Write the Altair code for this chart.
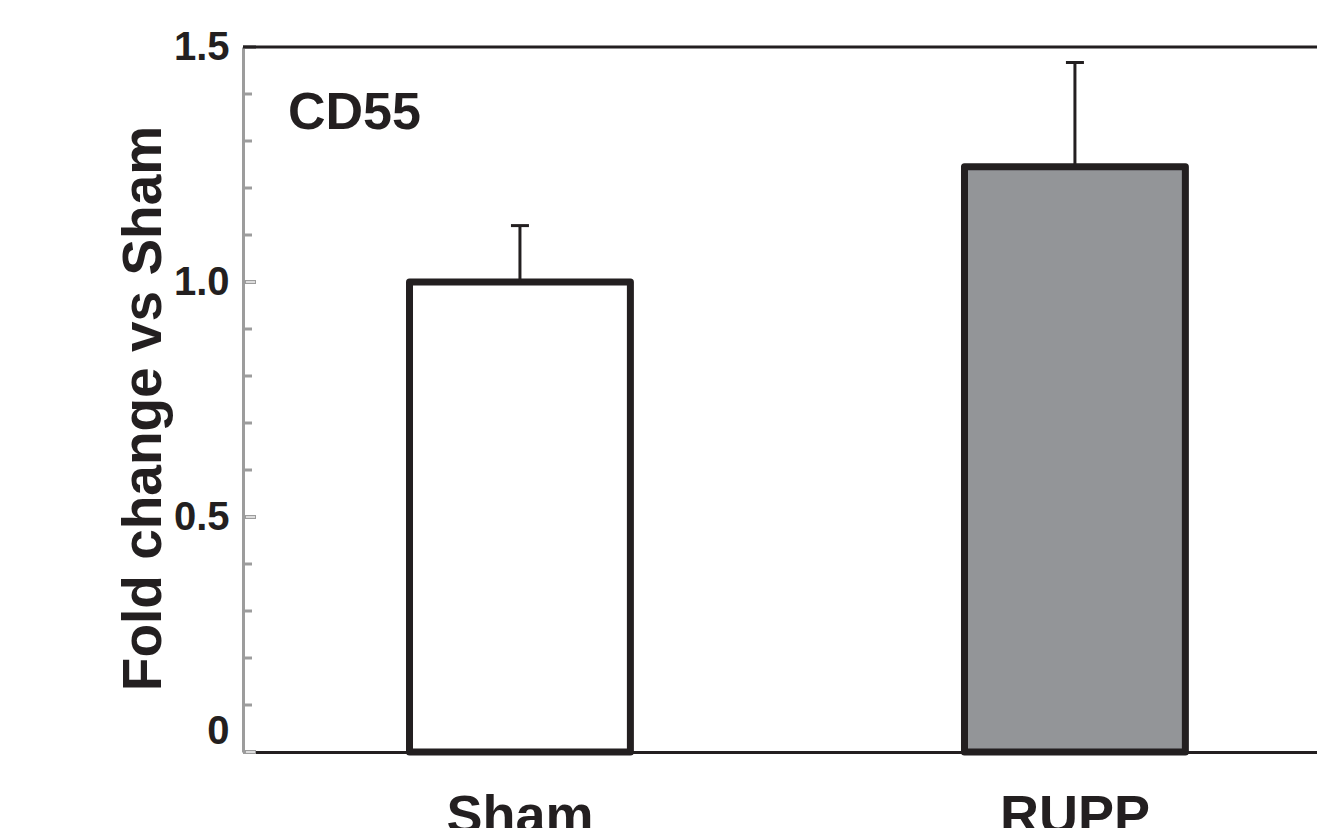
import altair as alt
import pandas as pd

# ---- data ----
groups = ["Sham", "RUPP"]
means = [1.0, 1.245]
upper = [1.12, 1.467]
major_ticks = [0.0, 0.5, 1.0, 1.5]
minor_ticks = [0.1, 0.2, 0.3, 0.4, 0.6, 0.7, 0.8, 0.9, 1.1, 1.2, 1.3, 1.4]
frame_top = [1.5]

FONT = "Liberation Sans"
INK = "#231f20"
AXIS_GREY = "#9c9c9c"
YTITLE = "Fold change vs Sham"

bars_df = pd.DataFrame({"group": groups, "mean": means, "upper": upper})
major_df = pd.DataFrame({"v": major_ticks})
minor_df = pd.DataFrame({"v": minor_ticks})
top_df = pd.DataFrame({"v": frame_top})

x_enc = alt.X(
    "group:N",
    sort=groups,
    scale=alt.Scale(paddingInner=0.602, paddingOuter=0.2686, align=0.5585),
    axis=alt.Axis(
        title=None,
        labelAngle=0,
        labelFont=FONT,
        labelFontSize=54,
        labelFontWeight="bold",
        labelColor=INK,
        labelPadding=37,
        labelBaseline="top",
        ticks=False,
        tickSize=0,
        domainColor=INK,
        domainWidth=3,
        grid=False,
    ),
)

y_scale = alt.Scale(domain=[0, 1.5], nice=False, zero=True)

y_axis = alt.Axis(
    values=major_ticks,
    labelExpr="datum.value == 0 ? '0' : format(datum.value, '.1f')",
    labelFont=FONT,
    labelFontSize=40,
    labelFontWeight="bold",
    labelColor=INK,
    labelPadding=14,
    labelOffset={"condition": {"test": "datum.value == 0", "value": -21}, "value": 0},
    ticks=False,
    tickSize=0,
    domainColor=AXIS_GREY,
    domainWidth=3,
    grid=False,
    titleFont=FONT,
    titleFontSize=55,
    titleFontWeight="bold",
    titleColor=INK,
    titleAngle=270,
    titleBaseline="alphabetic",
    titleAlign="center",
    titleX=-83,
    titleY=361,
)

bars = alt.Chart(bars_df).mark_bar(
    stroke=INK, strokeWidth=7, strokeJoin="round"
).encode(
    x=x_enc,
    y=alt.Y("mean:Q", scale=y_scale, axis=y_axis, title=YTITLE),
    fill=alt.Fill(
        "group:N",
        scale=alt.Scale(domain=groups, range=["#ffffff", "#939598"]),
        legend=None,
    ),
)

err_rule = alt.Chart(bars_df).mark_rule(color=INK, strokeWidth=3).encode(
    x=x_enc,
    y=alt.Y("mean:Q", title=YTITLE),
    y2="upper:Q",
)

err_cap = alt.Chart(bars_df).mark_tick(color=INK, thickness=3, size=18, opacity=1).encode(
    x=x_enc,
    y=alt.Y("upper:Q", title=YTITLE),
)

minor = alt.Chart(minor_df).mark_rule(color=AXIS_GREY, strokeWidth=3).encode(
    y=alt.Y("v:Q", title=YTITLE),
    x=alt.value(0),
    x2=alt.value(9),
)

major_outer = alt.Chart(major_df).mark_rule(color=AXIS_GREY, strokeWidth=4).encode(
    y=alt.Y("v:Q", title=YTITLE),
    x=alt.value(0),
    x2=alt.value(13),
)

major_inner = alt.Chart(major_df).mark_rule(color="#ffffff", strokeWidth=1.3).encode(
    y=alt.Y("v:Q", title=YTITLE),
    x=alt.value(3),
    x2=alt.value(12),
)

top_line = alt.Chart(top_df).mark_rule(color=INK, strokeWidth=3).encode(
    y=alt.Y("v:Q", title=YTITLE),
)

chart = alt.layer(
    bars, err_rule, err_cap, minor, major_outer, major_inner, top_line
).properties(
    width=1074,
    height=705,
    title=alt.TitleParams(
        text="CD55",
        anchor="start",
        frame="group",
        offset=0,
        dx=45,
        dy=154,
        baseline="alphabetic",
        font=FONT,
        fontSize=52,
        fontWeight="bold",
        color=INK,
    ),
    autosize=alt.AutoSizeParams(type="none"),
    padding={"left": 243, "top": 47, "right": 0, "bottom": 76},
).configure_view(strokeWidth=0).configure(background="white")

chart.save("out.html", embed_options={"renderer": "svg", "actions": False})
